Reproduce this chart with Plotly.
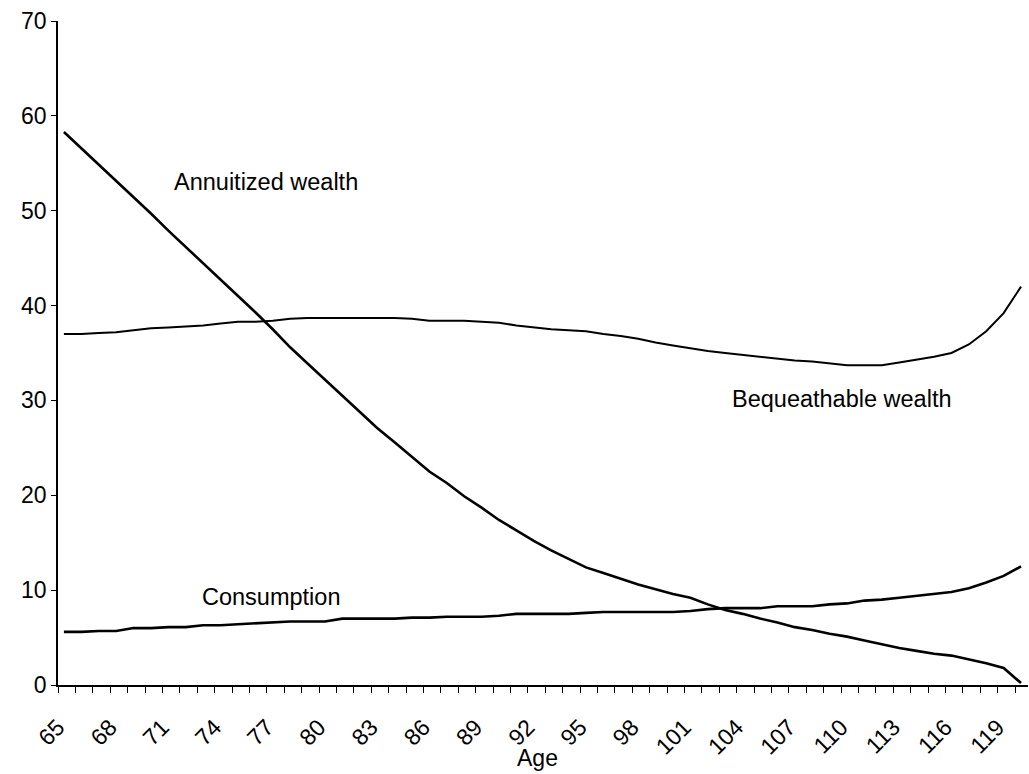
import plotly.graph_objects as go

ages = list(range(65, 121))

annuitized = [58.3, 56.6, 54.8, 53.1, 51.4, 49.7, 47.9, 46.2, 44.5, 42.8,
              41.0, 39.3, 37.5, 35.6, 33.9, 32.2, 30.4, 28.7, 27.1, 25.6,
              24.0, 22.5, 21.3, 19.9, 18.7, 17.4, 16.3, 15.2, 14.2, 13.3,
              12.4, 11.8, 11.2, 10.6, 10.1, 9.6, 9.2, 8.5, 7.9, 7.5,
              7.0, 6.6, 6.1, 5.8, 5.4, 5.1, 4.7, 4.3, 3.9, 3.6,
              3.3, 3.1, 2.7, 2.3, 1.8, 0.2]

bequeathable = [37.0, 37.0, 37.1, 37.2, 37.4, 37.6, 37.7, 37.8, 37.9, 38.1,
                38.3, 38.3, 38.4, 38.6, 38.7, 38.7, 38.7, 38.7, 38.7, 38.7,
                38.6, 38.4, 38.4, 38.4, 38.3, 38.2, 37.9, 37.7, 37.5, 37.4,
                37.3, 37.0, 36.8, 36.5, 36.1, 35.8, 35.5, 35.2, 35.0, 34.8,
                34.6, 34.4, 34.2, 34.1, 33.9, 33.7, 33.7, 33.7, 34.0, 34.3,
                34.6, 35.0, 35.9, 37.3, 39.2, 42.0]

consumption = [5.6, 5.6, 5.7, 5.7, 6.0, 6.0, 6.1, 6.1, 6.3, 6.3,
               6.4, 6.5, 6.6, 6.7, 6.7, 6.7, 7.0, 7.0, 7.0, 7.0,
               7.1, 7.1, 7.2, 7.2, 7.2, 7.3, 7.5, 7.5, 7.5, 7.5,
               7.6, 7.7, 7.7, 7.7, 7.7, 7.7, 7.8, 8.0, 8.1, 8.1,
               8.1, 8.3, 8.3, 8.3, 8.5, 8.6, 8.9, 9.0, 9.2, 9.4,
               9.6, 9.8, 10.2, 10.8, 11.5, 12.5]

tick_ages = list(range(65, 120, 3))
tick_labels = [str(a) for a in tick_ages]
y_ticks = [0, 10, 20, 30, 40, 50, 60, 70]

FONT = "Liberation Sans, Arial, sans-serif"
TICK_SHIFT = 0.34

fig = go.Figure()
fig.add_trace(go.Scatter(x=ages, y=annuitized, mode="lines",
                         line=dict(color="black", width=2.6), name="Annuitized wealth"))
fig.add_trace(go.Scatter(x=ages, y=bequeathable, mode="lines",
                         line=dict(color="black", width=2.0), name="Bequeathable wealth"))
fig.add_trace(go.Scatter(x=ages, y=consumption, mode="lines",
                         line=dict(color="black", width=2.6), name="Consumption"))

fig.update_layout(
    width=1029, height=774,
    margin=dict(l=58, r=1, t=21, b=89),
    plot_bgcolor="white", paper_bgcolor="white",
    showlegend=False,
    font=dict(family=FONT, size=23, color="black"),
)

fig.update_xaxes(
    range=[65 - TICK_SHIFT, 120.4],
    showgrid=False, zeroline=False,
    showline=True, linecolor="black", linewidth=1.5,
    tickmode="array",
    tickvals=[a - TICK_SHIFT for a in tick_ages],
    ticktext=tick_labels,
    tickangle=-45,
    ticks="outside", ticklen=6, tickwidth=1.2, tickcolor="black",
    ticklabelstandoff=12,
    tickfont=dict(family=FONT, size=23, color="black"),
    minor=dict(tick0=65 - TICK_SHIFT, dtick=1, ticks="outside", ticklen=6,
               tickwidth=1.2, tickcolor="black", showgrid=False),
)

fig.update_yaxes(
    range=[0, 70],
    showgrid=False, zeroline=False,
    showline=True, linecolor="black", linewidth=1.5,
    tickmode="array", tickvals=y_ticks,
    ticks="outside", ticklen=5, tickwidth=1.2, tickcolor="black",
    tickfont=dict(family=FONT, size=23, color="black"),
)

fig.add_annotation(x=71.2, y=53.0, xref="x", yref="y", text="Annuitized wealth",
                   showarrow=False, xanchor="left", yanchor="middle",
                   font=dict(family=FONT, size=23.5, color="black"))
fig.add_annotation(x=103.3, y=30.2, xref="x", yref="y", text="Bequeathable wealth",
                   showarrow=False, xanchor="left", yanchor="middle",
                   font=dict(family=FONT, size=23.5, color="black"))
fig.add_annotation(x=72.8, y=9.3, xref="x", yref="y", text="Consumption",
                   showarrow=False, xanchor="left", yanchor="middle",
                   font=dict(family=FONT, size=23.5, color="black"))
fig.add_annotation(x=0.494, y=-0.11, xref="paper", yref="paper", text="Age",
                   showarrow=False, xanchor="center", yanchor="middle",
                   font=dict(family=FONT, size=23, color="black"))

fig.write_html("out.html", config={"displayModeBar": False},
               post_script="document.body.style.margin='0';")
